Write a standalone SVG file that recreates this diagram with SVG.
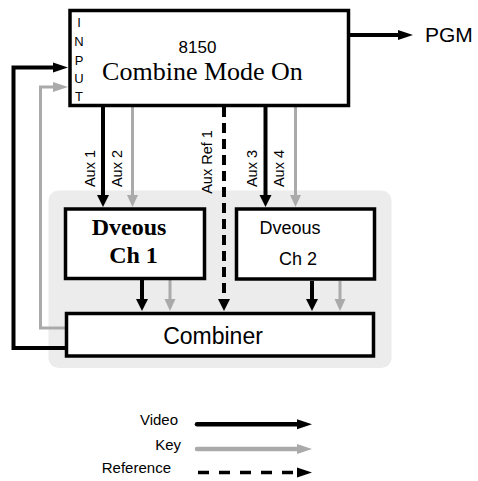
<svg xmlns="http://www.w3.org/2000/svg" width="478" height="481" viewBox="0 0 478 481">
<style>
.box{fill:#fff;stroke:#000;stroke-width:3.5}
.blk{fill:none;stroke:#000;stroke-width:4}
.gry{fill:none;stroke:#aaa;stroke-width:3}
.dsh{fill:none;stroke:#000;stroke-width:4;stroke-dasharray:10,6}
.sans{font-family:"Liberation Sans",Arial,sans-serif;fill:#000}
.serif{font-family:"Liberation Serif","Times New Roman",serif;fill:#000}
</style>
<defs>
<marker id="ab" markerUnits="userSpaceOnUse" markerWidth="12" markerHeight="12" refX="0" refY="6" orient="auto" overflow="visible"><path d="M0,0 L12,6 L0,12 z" fill="#000"/></marker>
<marker id="ag" markerUnits="userSpaceOnUse" markerWidth="12" markerHeight="12" refX="0" refY="6" orient="auto" overflow="visible"><path d="M0,0.5 L12,6 L0,11.5 z" fill="#aaa"/></marker>
<marker id="hb" markerUnits="userSpaceOnUse" markerWidth="15" markerHeight="10" refX="0" refY="5" orient="auto" overflow="visible"><path d="M0,0 L15,5 L0,10 z" fill="#000"/></marker>
<marker id="hg" markerUnits="userSpaceOnUse" markerWidth="15" markerHeight="10" refX="0" refY="5" orient="auto" overflow="visible"><path d="M0,0 L15,5 L0,10 z" fill="#aaa"/></marker>
</defs>

<rect id="background" x="48.5" y="190.5" width="343" height="177.5" rx="10" fill="#ececec"/>

<g id="connectors">
<path class="blk" d="M350,35 H398" marker-end="url(#hb)"/>
<path class="blk" d="M66,348 H13.5 V67.5 H53" marker-end="url(#hb)" stroke-linejoin="miter"/>
<path class="gry" d="M66,328 H40.5 V87 H53" marker-end="url(#hg)"/>
<path class="blk" d="M103,107 V195" marker-end="url(#ab)"/>
<path class="gry" d="M132.5,107 V195" marker-end="url(#ag)"/>
<path class="dsh" d="M224,107 V299" marker-end="url(#ab)"/>
<path class="blk" d="M265.5,107 V195" marker-end="url(#ab)"/>
<path class="gry" d="M295.5,107 V195" marker-end="url(#ag)"/>
<path class="blk" d="M142,280 V299" marker-end="url(#ab)"/>
<path class="gry" d="M170,280 V299" marker-end="url(#ag)"/>
<path class="blk" d="M312,281 V299" marker-end="url(#ab)"/>
<path class="gry" d="M340,281 V299" marker-end="url(#ag)"/>
</g>

<g id="labels" class="sans" font-size="14.5" text-anchor="middle">
<text transform="translate(95,168.5) rotate(-90)">Aux 1</text>
<text transform="translate(121.7,168.5) rotate(-90)">Aux 2</text>
<text transform="translate(212,162) rotate(-90)">Aux Ref 1</text>
<text transform="translate(257,168.5) rotate(-90)">Aux 3</text>
<text transform="translate(284,168.5) rotate(-90)">Aux 4</text>
</g>

<g id="n8150">
<rect class="box" x="70" y="10.5" width="278.5" height="95"/>
<g class="sans" font-size="13" text-anchor="middle">
<text x="79" y="27">I</text>
<text x="79" y="46">N</text>
<text x="79" y="64.5">P</text>
<text x="79" y="83">U</text>
<text x="79" y="101">T</text>
</g>
<text class="sans" x="197.5" y="53" font-size="17" text-anchor="middle">8150</text>
<text class="serif" x="202.5" y="80" font-size="26" text-anchor="middle">Combine Mode On</text>
</g>

<g id="pgm">
<text class="sans" x="425" y="42" font-size="21">PGM</text>
</g>

<g id="ch1">
<rect class="box" x="65.5" y="209" width="139" height="69.5"/>
<text class="serif" x="129" y="235" font-size="24" font-weight="bold" text-anchor="middle">Dveous</text>
<text class="serif" x="133.5" y="263" font-size="24" font-weight="bold" text-anchor="middle">Ch 1</text>
</g>

<g id="ch2">
<rect class="box" x="236.5" y="209" width="138" height="70"/>
<text class="sans" x="290" y="234" font-size="18" text-anchor="middle">Dveous</text>
<text class="sans" x="298" y="265" font-size="18" text-anchor="middle">Ch 2</text>
</g>

<g id="combiner">
<rect class="box" x="66.5" y="313.5" width="307" height="42.5"/>
<text class="sans" x="213" y="344" font-size="23" text-anchor="middle">Combiner</text>
</g>

<g id="legend">
<text class="sans" x="178" y="425" font-size="15" text-anchor="end">Video</text>
<path d="M197,424.3 H297" fill="none" stroke="#000" stroke-width="4.5" stroke-linecap="round" marker-end="url(#hb)"/>
<text class="sans" x="181" y="450" font-size="15" text-anchor="end">Key</text>
<path d="M197,449 H297" fill="none" stroke="#aaa" stroke-width="4.5" stroke-linecap="round" marker-end="url(#hg)"/>
<text class="sans" x="171" y="473" font-size="15" text-anchor="end">Reference</text>
<path d="M198,472.5 H297" fill="none" stroke="#000" stroke-width="3.5" stroke-dasharray="11,10" marker-end="url(#hb)"/>
</g>
</svg>
